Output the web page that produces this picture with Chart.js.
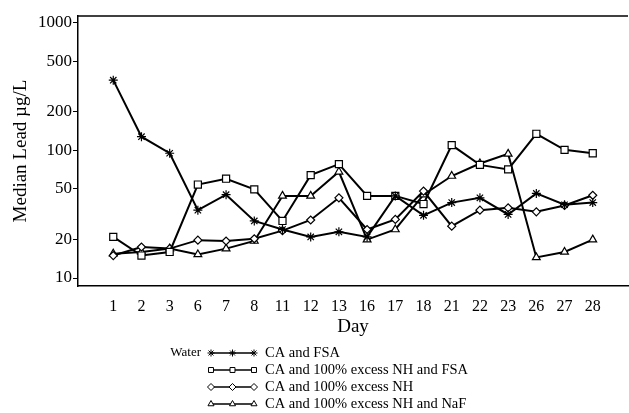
<!DOCTYPE html>
<html>
<head>
<meta charset="utf-8">
<script src="https://cdn.jsdelivr.net/npm/chart.js@4/dist/chart.umd.min.js"></script>
<style>
  html, body { margin: 0; padding: 0; background: #fff; }
  #wrap { width: 629px; height: 413px; position: relative; }
</style>
</head>
<body>
<div id="wrap"><canvas id="c" width="629" height="413"></canvas></div>
<script>
// Sampling days
const days = ['1','2','3','6','7','8','11','12','13','16','17','18','21','22','23','26','27','28'];

// Median lead (µg/L) per treatment
const caFsa       = [355, 128, 95, 34, 45, 28, 24, 21, 23, 21, 44, 31, 39, 42.5, 31.5, 46, 37.5, 39];
const caNhFsa     = [21, 15, 16, 54, 60, 49.5, 28, 64, 78, 44, 44, 38, 110, 77, 71, 135, 101, 95];
const caNh        = [15, 17.5, 17, 19.8, 19.5, 20.3, 23.5, 28.5, 42.5, 24, 28.8, 48, 25.5, 34, 35.5, 33, 37, 44.5];
const caNhNaf     = [15.5, 16, 17, 15.3, 17, 19.5, 44, 44, 68, 20, 24, 45, 63, 79, 94, 14.5, 16, 20];

// Log axis labels
const yTicks = [10, 20, 50, 100, 200, 500, 1000];

const seriesNames = [
  'CA and FSA',
  'CA and 100% excess NH and FSA',
  'CA and 100% excess NH',
  'CA and 100% excess NH and NaF'
];
const FONT = "'Liberation Serif', 'Times New Roman', serif";

function toPoints(arr) { return arr.map((v, i) => ({ x: i, y: v })); }

function makeSet(label, data, style, radius) {
  return {
    label: label,
    data: toPoints(data),
    borderColor: '#000',
    backgroundColor: '#fff',
    borderWidth: 2,
    pointStyle: style,
    pointRadius: radius,
    pointBorderWidth: 1.2,
    pointBorderColor: '#000',
    pointBackgroundColor: '#fff',
    tension: 0,
    fill: false
  };
}

const datasets = [
  makeSet(seriesNames[0], caFsa, 'star', 4.5),
  makeSet(seriesNames[1], caNhFsa, 'rect', 5),
  makeSet(seriesNames[2], caNh, 'rectRot', 4),
  makeSet(seriesNames[3], caNhNaf, 'triangle', 4.5)
];

// Top frame line plus the legend block under the axis title
const framePlugin = {
  id: 'frameAndKey',
  afterDraw(chart) {
    const ctx = chart.ctx;
    const a = chart.chartArea;
    ctx.save();
    ctx.strokeStyle = '#000';
    ctx.lineWidth = 1.5;
    ctx.beginPath();
    ctx.moveTo(a.left, a.top);
    ctx.lineTo(a.right, a.top);
    ctx.stroke();

    // key
    const rowY = [353, 370, 387, 404];
    const symL = 211, symR = 254, textX = 265;
    ctx.fillStyle = '#000';
    ctx.font = '13px ' + FONT;
    ctx.textBaseline = 'middle';
    ctx.textAlign = 'right';
    ctx.fillText('Water', 201, rowY[0]);
    ctx.textAlign = 'left';
    ctx.font = '14.5px ' + FONT;
    datasets.forEach((ds, i) => {
      const y = rowY[i];
      ctx.strokeStyle = '#000';
      ctx.lineWidth = 1.5;
      ctx.beginPath();
      ctx.moveTo(symL, y);
      ctx.lineTo(symR, y);
      ctx.stroke();
      [symL, (symL + symR) / 2, symR].forEach(px => {
        ctx.fillStyle = '#fff';
        ctx.strokeStyle = '#000';
        ctx.lineWidth = 1;
        Chart.helpers.drawPoint(ctx, { pointStyle: ds.pointStyle, radius: 3.5, borderWidth: 1, rotation: 0 }, px, y);
      });
      ctx.fillStyle = '#000';
      ctx.fillText(ds.label, textX, y);
    });
    ctx.restore();
  }
};

new Chart(document.getElementById('c'), {
  type: 'line',
  data: { datasets: datasets },
  options: {
    responsive: false,
    animation: false,
    layout: { autoPadding: false, padding: { top: 16, right: 1, left: 0, bottom: 0 } },
    plugins: { legend: { display: false }, tooltip: { enabled: false } },
    scales: {
      x: {
        type: 'linear',
        min: -1.25,
        max: 18.25,
        afterBuildTicks(scale) { scale.ticks = days.map((d, i) => ({ value: i })); },
        afterFit(scale) { scale.height = 127; },
        grid: { display: false },
        border: { display: true, color: '#000', width: 1.5 },
        ticks: {
          color: '#000',
          font: { family: FONT, size: 16 },
          padding: 3,
          maxRotation: 0,
          autoSkip: false,
          callback: (v) => days[v] !== undefined ? days[v] : ''
        },
        title: {
          display: true,
          text: 'Day',
          color: '#000',
          font: { family: FONT, size: 19 },
          padding: { top: 4, bottom: 75 }
        }
      },
      y: {
        type: 'logarithmic',
        min: 8.66,
        max: 1130,
        afterBuildTicks(scale) { scale.ticks = yTicks.map(v => ({ value: v })); },
        afterFit(scale) { scale.width = 78; },
        grid: { display: true, drawOnChartArea: false, drawTicks: true, tickLength: 5, color: '#000', lineWidth: 1 },
        border: { display: true, color: '#000', width: 1.5 },
        ticks: {
          color: '#000',
          font: { family: FONT, size: 17 },
          padding: 1,
          autoSkip: false,
          callback: (v) => String(v)
        },
        title: {
          display: true,
          text: 'Median Lead µg/L',
          color: '#000',
          font: { family: FONT, size: 19 },
          padding: { top: 10, bottom: 0 }
        }
      }
    }
  },
  plugins: [framePlugin]
});
</script>
</body>
</html>
